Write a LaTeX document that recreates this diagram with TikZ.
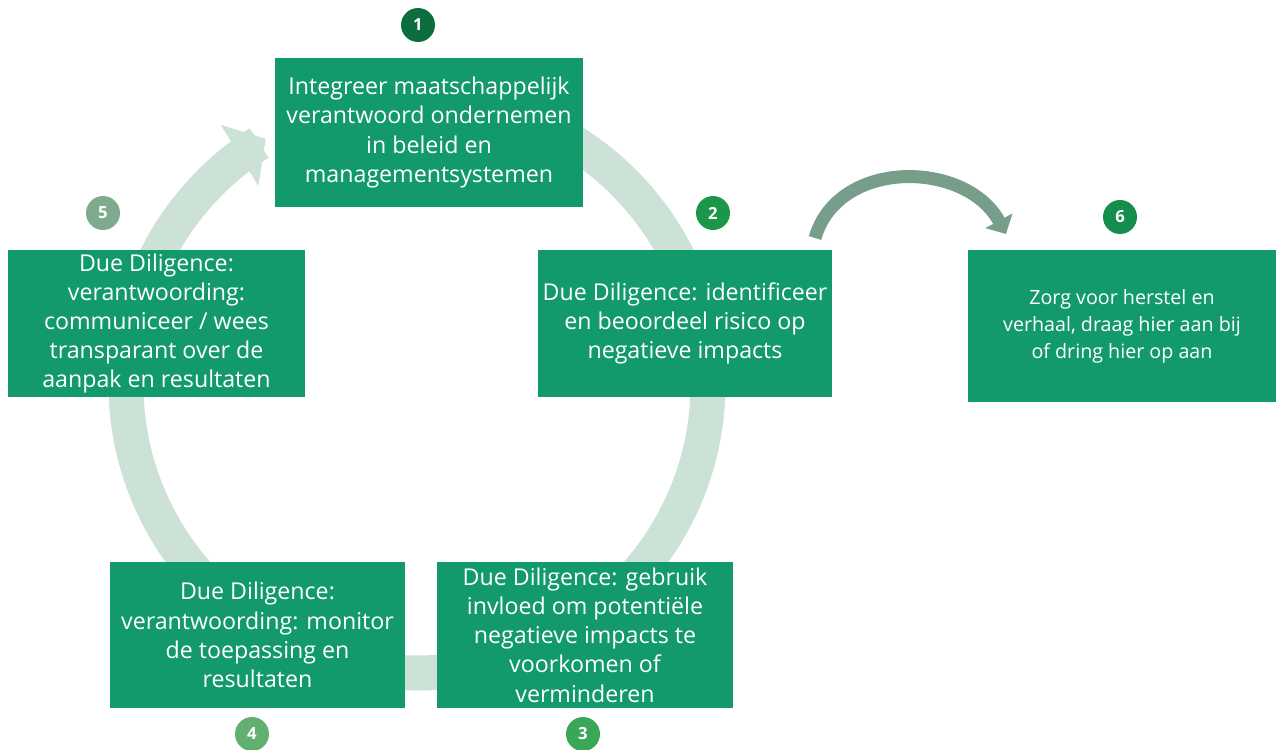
\documentclass[tikz,border=0pt]{standalone}
\usepackage{fontspec}
\setmainfont{Open Sans}
\usetikzlibrary{positioning, arrows.meta}
\definecolor{boxgreen}{RGB}{18,154,108}
\definecolor{ringgreen}{RGB}{205,226,214}
\definecolor{turngreen}{RGB}{118,158,138}

\begin{document}
\begin{tikzpicture}
    [
        x=0.02cm, y=-0.02cm,
        box_node/.style={rectangle, fill=boxgreen, text=white, align=center, inner sep=0pt, font=\fontsize{13.2}{16.6}\selectfont},
        num_node/.style={circle, minimum size=0.68cm, inner sep=0pt, text=white, font=\fontsize{9.5}{10}\selectfont\bfseries},
    ]
        \useasboundingbox (0,0) rectangle (1278,750);
        % ring of the cycle, behind the boxes
        \draw[line width=0.7cm, color=ringgreen, -{Triangle[width=1.4cm, length=0.62cm]}] plot[domain=-100:238.7, samples=150, smooth] ({417+291*cos(\x)}, {385+288*sin(\x)});
        \node[box_node, minimum width=6.16cm, minimum height=2.98cm] (box1) at (429,132.5) {Integreer maatschappelijk\\verantwoord ondernemen\\in beleid en\\managementsystemen} ;
        \node[box_node, minimum width=5.88cm, minimum height=2.94cm] (box2) at (685,323.5) {Due Diligence: identificeer\\en beoordeel risico op\\negatieve impacts} ;
        \node[box_node, minimum width=5.92cm, minimum height=2.94cm] (box3) at (585,635) {Due Diligence: gebruik\\invloed om potentiële\\negatieve impacts te\\voorkomen of\\verminderen} ;
        \node[box_node, minimum width=5.90cm, minimum height=2.94cm] (box4) at (257.5,635) {Due Diligence:\\verantwoording: monitor\\de toepassing en\\resultaten} ;
        \node[box_node, minimum width=5.94cm, minimum height=2.94cm] (box5) at (156.5,323.5) {Due Diligence:\\verantwoording:\\communiceer / wees\\transparant over de\\aanpak en resultaten} ;
        \node[box_node, minimum width=6.16cm, minimum height=3.04cm, font=\fontsize{11.2}{15.4}\selectfont] (box6) at (1122,326) {Zorg voor herstel en\\verhaal, draag hier aan bij\\of dring hier op aan} ;
        \node[num_node, fill={rgb,255:red,12;green,110;blue,60}] (n1) at (418,25) {1} ;
        \node[num_node, fill={rgb,255:red,28;green,150;blue,72}] (n2) at (713,213) {2} ;
        \node[num_node, fill={rgb,255:red,58;green,166;blue,88}] (n3) at (583,734) {3} ;
        \node[num_node, fill={rgb,255:red,98;green,176;blue,112}] (n4) at (252,734) {4} ;
        \node[num_node, fill={rgb,255:red,126;green,170;blue,142}] (n5) at (103,213) {5} ;
        \node[num_node, fill={rgb,255:red,20;green,142;blue,76}] (n6) at (1120,217) {6} ;
        \coordinate (turn_start) at (815,238) ;
        \coordinate (turn_end) at (1006,234) ;
        \draw[line width=0.26cm, color=turngreen, -{Triangle[width=0.6cm, length=0.3cm]}] (turn_start) .. controls (838,158) and (966,160) .. (turn_end) ;
    \end{tikzpicture}
\end{document}
